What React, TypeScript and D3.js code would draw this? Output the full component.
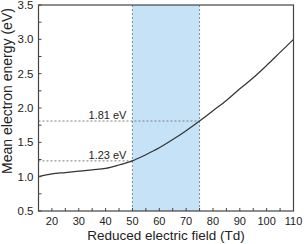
import { useRef, useEffect } from 'react';
import * as d3 from 'd3';

// reduced electric field (Td) and mean electron energy (eV)
const fieldTd = [15, 20, 25, 30, 35, 40, 45, 50, 55, 60, 65, 70, 75, 80, 85, 90, 95, 100, 105, 110];
const energyEv = [1.0, 1.04, 1.06, 1.08, 1.1, 1.12, 1.17, 1.23, 1.32, 1.42, 1.54, 1.67, 1.81, 1.96, 2.11, 2.28, 2.44, 2.62, 2.81, 3.0];

const xTicks = [20, 30, 40, 50, 60, 70, 80, 90, 100, 110];
const yTicks = [0.5, 1.0, 1.5, 2.0, 2.5, 3.0, 3.5];

// shaded window and marked energies
const bandRange = [50, 75];
const markers = [
  { field: 50, energy: 1.23, label: '1.23 eV' },
  { field: 75, energy: 1.81, label: '1.81 eV' }
];

function App() {
  const ref = useRef(null);

  useEffect(() => {
    const el = ref.current;
    if (!el) return;
    el.innerHTML = '';

    const W = 305;
    const H = 244;
    const margin = { top: 5, right: 11.5, bottom: 33, left: 38.5 };
    const width = W - margin.left - margin.right;
    const height = H - margin.top - margin.bottom;

    const svg = d3.select(el)
      .append('svg')
      .attr('width', W)
      .attr('height', H)
      .style('position', 'absolute')
      .style('left', '0px')
      .style('top', '0px')
      .style('font-family', 'Liberation Sans, Arial, sans-serif');

    const g = svg.append('g')
      .attr('transform', `translate(${margin.left},${margin.top})`);

    const x = d3.scaleLinear().domain([15, 110]).range([0, width]);
    const y = d3.scaleLinear().domain([0.5, 3.5]).range([height, 0]);

    // shaded band
    g.append('rect')
      .attr('x', x(bandRange[0]))
      .attr('y', 0)
      .attr('width', x(bandRange[1]) - x(bandRange[0]))
      .attr('height', height)
      .attr('fill', '#c6e2f6');

    bandRange.forEach(v => {
      g.append('line')
        .attr('x1', x(v)).attr('x2', x(v))
        .attr('y1', 0).attr('y2', height)
        .attr('stroke', '#7d8c9a')
        .attr('stroke-width', 1)
        .attr('stroke-dasharray', '2,2');
    });

    // horizontal markers
    markers.forEach(m => {
      g.append('line')
        .attr('x1', 0).attr('x2', x(m.field))
        .attr('y1', y(m.energy)).attr('y2', y(m.energy))
        .attr('stroke', '#7d7d7d')
        .attr('stroke-width', 1)
        .attr('stroke-dasharray', '2,2');
      g.append('text')
        .attr('x', x(50) - 6)
        .attr('y', y(m.energy) - 2)
        .attr('text-anchor', 'end')
        .attr('font-size', 11)
        .attr('fill', '#222')
        .text(m.label);
    });

    // curve
    const data = fieldTd.map((f, i) => ({ f, e: energyEv[i] }));
    g.append('path')
      .datum(data)
      .attr('d', d3.line().x(d => x(d.f)).y(d => y(d.e)).curve(d3.curveMonotoneX))
      .attr('fill', 'none')
      .attr('stroke', '#333')
      .attr('stroke-width', 1.2);

    // inward ticks, major and minor
    const axisColor = '#444';
    d3.range(15, 111, 5).forEach(v => {
      g.append('line')
        .attr('x1', x(v)).attr('x2', x(v))
        .attr('y1', height).attr('y2', height - 3)
        .attr('stroke', axisColor);
    });
    d3.range(0.5, 3.51, 0.25).forEach(v => {
      g.append('line')
        .attr('x1', 0).attr('x2', 3)
        .attr('y1', y(v)).attr('y2', y(v))
        .attr('stroke', axisColor);
    });

    // frame
    g.append('rect')
      .attr('x', 0).attr('y', 0)
      .attr('width', width).attr('height', height)
      .attr('fill', 'none')
      .attr('stroke', axisColor)
      .attr('stroke-width', 1.2);

    // tick labels
    g.selectAll('.xl')
      .data(xTicks)
      .enter()
      .append('text')
      .attr('x', d => x(d))
      .attr('y', height + 14)
      .attr('text-anchor', 'middle')
      .attr('font-size', 11)
      .attr('fill', '#222')
      .text(d => d);

    g.selectAll('.yl')
      .data(yTicks)
      .enter()
      .append('text')
      .attr('x', -5)
      .attr('y', d => y(d) + 4)
      .attr('text-anchor', 'end')
      .attr('font-size', 11.5)
      .attr('fill', '#222')
      .text(d => d.toFixed(1));

    // axis titles
    svg.append('text')
      .attr('x', margin.left + width / 2)
      .attr('y', 240)
      .attr('text-anchor', 'middle')
      .attr('font-size', 13.5)
      .attr('fill', '#222')
      .text('Reduced electric field (Td)');

    svg.append('text')
      .attr('transform', 'translate(12,91) rotate(-90)')
      .attr('text-anchor', 'middle')
      .attr('font-size', 14)
      .attr('fill', '#222')
      .text('Mean electron energy (eV)');
  }, []);

  return <div ref={ref}></div>;
}

export default App;
